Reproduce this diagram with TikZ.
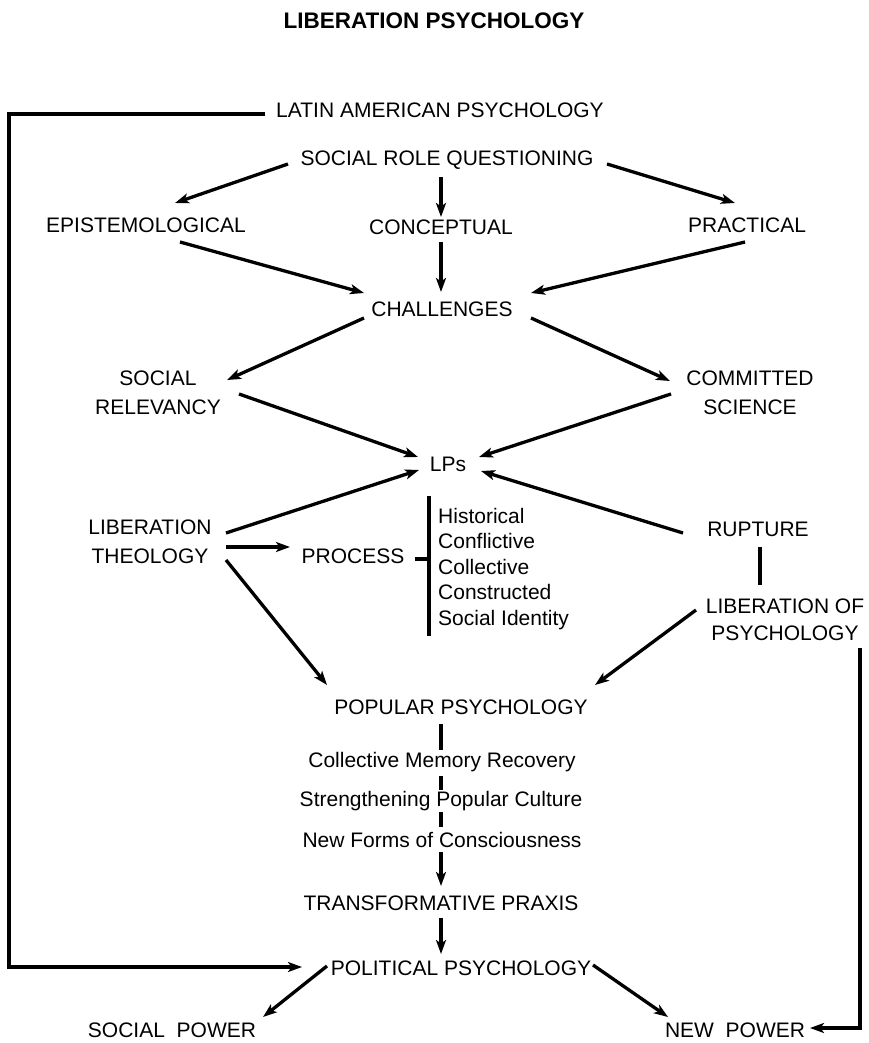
\documentclass[tikz,border=0pt]{standalone}
\usepackage{fontspec}
\setmainfont{Liberation Sans}
\usetikzlibrary{arrows.meta}

\begin{document}
\begin{tikzpicture}[
  x=1pt, y=-1pt,
  >={Stealth[length=14pt,width=10pt,inset=3.5pt]},
  lbl/.style={inner sep=0pt, font=\fontsize{21}{29}\selectfont, align=center},
  item/.style={inner sep=0pt, font=\fontsize{21}{25.5}\selectfont},
  heading/.style={inner sep=0pt, font=\fontsize{22.5}{27}\selectfont\bfseries},
  arr/.style={->, line width=3.3pt},
  link/.style={line width=3.3pt},
  frame/.style={->, line width=4.3pt},
]
  \useasboundingbox (0,0) rectangle (869,1043);

  % top
  \node[heading] (title) at (434,21) {LIBERATION PSYCHOLOGY};
  \node[lbl] (lap) at (440,110) {LATIN AMERICAN PSYCHOLOGY};
  \node[lbl] (srq) at (447,160) {SOCIAL ROLE QUESTIONING};
  \node[lbl] (epi) at (146,225) {EPISTEMOLOGICAL};
  \node[lbl] (conc) at (441,227) {CONCEPTUAL};
  \node[lbl] (prac) at (747,225) {PRACTICAL};
  \node[lbl] (chal) at (442,309) {CHALLENGES};
  \node[lbl] (srel) at (158,393) {SOCIAL\\RELEVANCY};
  \node[lbl] (csci) at (750,393) {COMMITTED\\SCIENCE};
  \node[lbl] (lps) at (448,464) {LPs};

  % middle
  \node[lbl] (lth) at (150,542) {LIBERATION\\THEOLOGY};
  \node[lbl] (proc) at (353,556) {PROCESS};
  \node[item, align=left, anchor=west] (feat) at (438,569)
    {Historical\\Conflictive\\Collective\\Constructed\\Social Identity};
  \node[lbl] (rup) at (758,529) {RUPTURE};
  \node[lbl, font=\fontsize{21}{27}\selectfont] (lop) at (785,620) {LIBERATION OF\\PSYCHOLOGY};

  % bottom
  \node[lbl] (pop) at (461,707) {POPULAR PSYCHOLOGY};
  \node[item] (cmr) at (442,762) {Collective Memory Recovery};
  \node[item] (spc) at (441,801) {Strengthening Popular Culture};
  \node[item] (nfc) at (442,840) {New Forms of Consciousness};
  \node[lbl] (tpx) at (441,903) {TRANSFORMATIVE PRAXIS};
  \node[lbl] (pol) at (461,968) {POLITICAL PSYCHOLOGY};
  \node[lbl] (spow) at (172,1030) {SOCIAL\ \ POWER};
  \node[lbl] (npow) at (735,1030) {NEW\ \ POWER};

  % arrows, upper half
  \draw[arr] ([shift={(-159,4)}]srq.center) -- ([shift={(29,-22)}]epi.center);
  \draw[arr] ([shift={(-6,17)}]srq.center) -- ([shift={(0,-10)}]conc.center);
  \draw[arr] ([shift={(160,4)}]srq.center) -- ([shift={(-12,-22)}]prac.center);
  \draw[arr] ([shift={(34,17)}]epi.center) -- ([shift={(-78,-16)}]chal.center);
  \draw[arr] ([shift={(0,15)}]conc.center) -- ([shift={(-1,-17)}]chal.center);
  \draw[arr] ([shift={(-2,17)}]prac.center) -- ([shift={(89,-16)}]chal.center);
  \draw[arr] ([shift={(-78,9)}]chal.center) -- ([shift={(69,-13)}]srel.center);
  \draw[arr] ([shift={(89,9)}]chal.center) -- ([shift={(-80,-12)}]csci.center);
  \draw[arr] ([shift={(81,1)}]srel.center) -- ([shift={(-30,-7)}]lps.center);
  \draw[arr] ([shift={(-79,1)}]csci.center) -- ([shift={(31,-7)}]lps.center);
  \draw[arr] ([shift={(76,-9)}]lth.center) -- ([shift={(-29,6)}]lps.center);
  \draw[arr] ([shift={(-75,4)}]rup.center) -- ([shift={(33,7)}]lps.center);

  % process bracket
  \draw[arr] ([shift={(76,5)}]lth.center) -- ([shift={(-63,-9)}]proc.center);
  \draw[link] ([xshift=-9pt, yshift=73pt]feat.west) -- ([xshift=-9pt, yshift=-67pt]feat.west);
  \draw[link] ([shift={(62,3)}]proc.center) -- ++(14,0);
  \draw[link] ([shift={(2,18)}]rup.center) -- ([shift={(-25,-35)}]lop.center);

  % arrows, lower half
  \draw[arr] ([shift={(76,18)}]lth.center) -- ([shift={(-134,-22)}]pop.center);
  \draw[arr] ([shift={(-89,-10)}]lop.center) -- ([shift={(134,-22)}]pop.center);
  \draw[link] ([shift={(-20,17)}]pop.center) -- ([shift={(-1,-12)}]cmr.center);
  \draw[link] ([shift={(-1,14)}]cmr.center) -- ([shift={(0,-11)}]spc.center);
  \draw[link] ([shift={(0,11)}]spc.center) -- ([shift={(-1,-13)}]nfc.center);
  \draw[arr] ([shift={(-1,12)}]nfc.center) -- ([shift={(0,-17)}]tpx.center);
  \draw[arr] ([shift={(0,15)}]tpx.center) -- ([shift={(-20,-14)}]pol.center);
  \draw[arr] ([shift={(-134,-2)}]pol.center) -- ([shift={(91,-13)}]spow.center);
  \draw[arr] ([shift={(132,-3)}]pol.center) -- ([shift={(-67,-13)}]npow.center);

  % outer returns
  \draw[frame] ([shift={(-175,4)}]lap.center) -- ++(-256,0) |- ([shift={(-159,-1)}]pol.center);
  \draw[frame] ([shift={(75,28)}]lop.center) |- ([shift={(75,-2)}]npow.center);
\end{tikzpicture}
\end{document}
